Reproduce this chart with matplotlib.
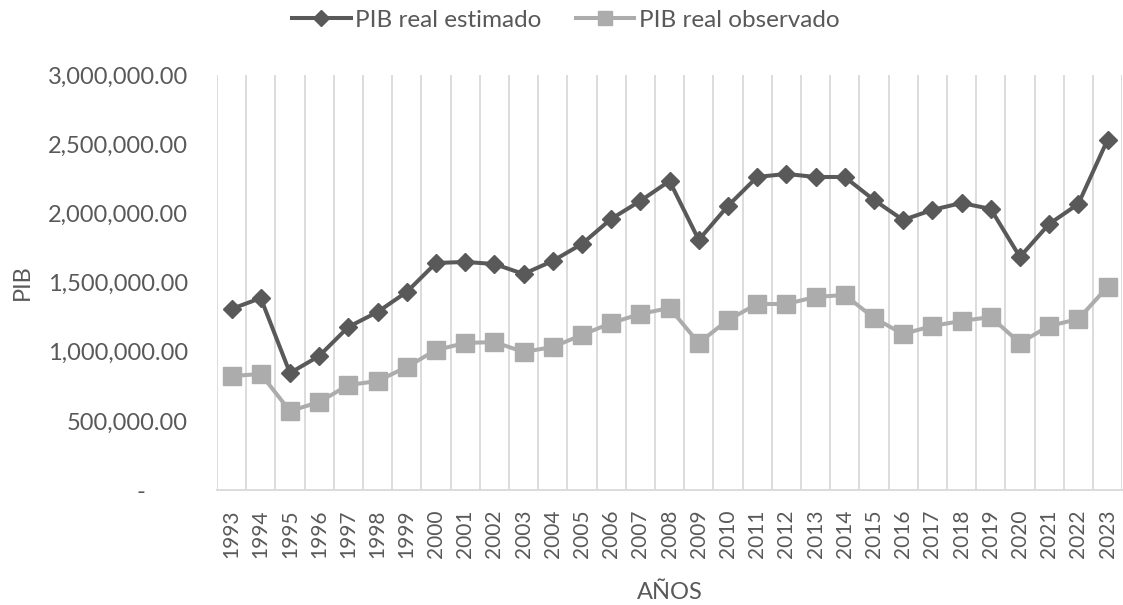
import matplotlib
matplotlib.use('Agg')
import matplotlib.pyplot as plt
from matplotlib.ticker import FuncFormatter, FixedLocator
import numpy as np

years = [str(y) for y in range(1993, 2024)]
pib_estimado = [1309000, 1388000, 846000, 969000, 1179000, 1287000, 1432000, 1641000,
                1649000, 1634000, 1562000, 1656000, 1779000, 1960000, 2090000, 2234000,
                1808000, 2054000, 2263000, 2285000, 2263000, 2263000, 2097000, 1952000,
                2025000, 2075000, 2032000, 1685000, 1923000, 2068000, 2531000]
pib_observado = [824000, 839000, 571000, 636000, 759000, 788000, 889000, 1012000,
                 1063000, 1070000, 998000, 1034000, 1121000, 1207000, 1273000, 1316000,
                 1063000, 1229000, 1345000, 1345000, 1396000, 1410000, 1244000, 1128000,
                 1186000, 1222000, 1251000, 1063000, 1186000, 1236000, 1468000]

FontSize = 17
TextColor = '#595959'
GridColor = '#d9d9d9'

plt.rcParams['font.family'] = ['Lato', 'DejaVu Sans']

fig = plt.figure(figsize=(11.23, 6.05), dpi=100)
ax = fig.add_axes([0.1932, 0.190, 0.806, 0.686])

x = np.arange(len(years))
ax.plot(x, pib_estimado, color='#595959', linewidth=2.9, marker='D', markersize=9,
        label='PIB real estimado', zorder=4)
ax.plot(x, pib_observado, color='#acacac', linewidth=2.9, marker='s', markersize=12.5,
        label='PIB real observado', zorder=3)

ax.set_xlim(-0.5, len(years) - 0.5)
ax.set_ylim(0, 3000000)
ax.set_yticks(np.arange(0, 3000001, 500000))
ax.yaxis.set_major_formatter(FuncFormatter(lambda v, p: '-       ' if v == 0 else f'{v:,.2f}'))
ax.set_xticks(x)
ax.set_xticklabels(years, rotation=90)
ax.xaxis.set_minor_locator(FixedLocator(np.arange(-0.5, len(years), 1.0)))
ax.grid(which='minor', axis='x', color=GridColor, linewidth=1.3)
ax.tick_params(which='both', length=0)
ax.tick_params(axis='y', labelsize=FontSize, labelcolor=TextColor, pad=21)
ax.tick_params(axis='x', labelsize=15, labelcolor=TextColor, pad=14)

for s in ['top', 'right', 'left']:
    ax.spines[s].set_visible(False)
ax.spines['bottom'].set_color(GridColor)
ax.spines['bottom'].set_linewidth(1.3)

ax.set_ylabel('PIB', fontsize=FontSize, color=TextColor, va='center')
ax.yaxis.set_label_coords(-0.2155, 0.5)
ax.set_xlabel('AÑOS', fontsize=FontSize, color=TextColor, va='center')
ax.xaxis.set_label_coords(0.5, -0.246)

leg = fig.legend(loc='center', bbox_to_anchor=(566 / 1123, 1 - 20 / 605), ncol=2, frameon=False,
                 fontsize=17.5, handlelength=2.4, columnspacing=1.4, handletextpad=0.2,
                 borderpad=0, borderaxespad=0, markerscale=0.85)
for t in leg.get_texts():
    t.set_color(TextColor)

fig.savefig('out.png', dpi=100)
